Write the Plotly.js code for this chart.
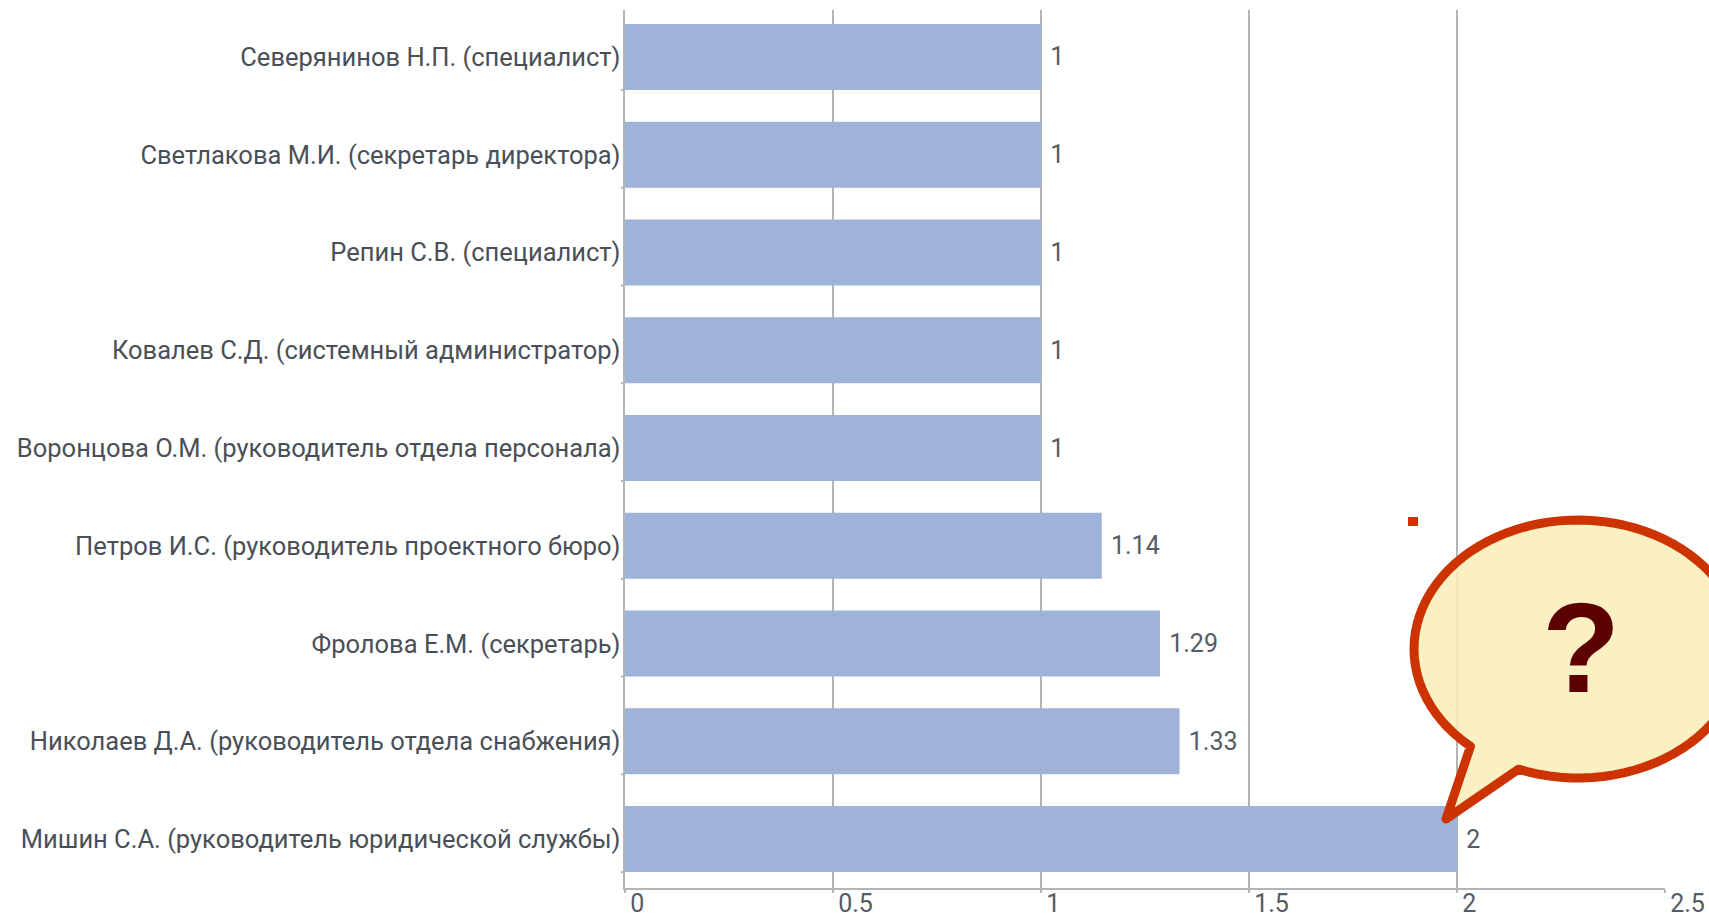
<!DOCTYPE html>
<html>
<head>
<meta charset="utf-8">
<script src="https://cdn.plot.ly/plotly-3.0.1.min.js"></script>
<style>
html,body{margin:0;padding:0;background:#fff;overflow:hidden}
#chart{width:1709px;height:919px}
.shapelayer path{stroke-linejoin:round}
</style>
</head>
<body>
<div id="chart"></div>
<script>
const categories = [
  "Северянинов Н.П. (специалист)",
  "Светлакова М.И. (секретарь директора)",
  "Репин С.В. (специалист)",
  "Ковалев С.Д. (системный администратор)",
  "Воронцова О.М. (руководитель отдела персонала)",
  "Петров И.С. (руководитель проектного бюро)",
  "Фролова Е.М. (секретарь)",
  "Николаев Д.А. (руководитель отдела снабжения)",
  "Мишин С.А. (руководитель юридической службы)"
];
const values = [1, 1, 1, 1, 1, 1.146, 1.286, 1.333, 2];
const valueLabels = ["1", "1", "1", "1", "1", "1.14", "1.29", "1.33", "2"];
const tickValues = [0, 0.5, 1, 1.5, 2, 2.5];
const tickLabels = ["0", "0.5", "1", "1.5", "2", "2.5"];

const W = 1709, H = 919;
const M = {l: 625, r: 44, t: 10, b: 31};
const BAR = 0.675;
const GREY = "#b4b4b4";
const px = x => (x - M.l) / (W - M.l - M.r);
const py = y => (H - M.b - y) / (H - M.t - M.b);

const cx = 1578, cy = 649, rx = 164, ry = 129;
function callout() {
  const a0 = Math.atan2((745 - cy) / ry, (1472 - cx) / rx);
  let a1 = Math.atan2((768 - cy) / ry, (1519 - cx) / rx);
  if (a1 < a0) a1 += 2 * Math.PI;
  const pts = [];
  const n = 90;
  for (let i = 0; i <= n; i++) {
    const a = a0 + (a1 - a0) * i / n;
    pts.push([cx + rx * Math.cos(a), cy + ry * Math.sin(a)]);
  }
  pts.push([1446, 819]);
  return pts.map((p, i) => (i ? "L" : "M") + px(p[0]).toFixed(5) + "," + py(p[1]).toFixed(5)).join(" ") + " Z";
}

const trace = {
  type: "bar",
  orientation: "h",
  y: categories,
  x: values,
  width: BAR,
  marker: {color: "#9fb2da", line: {width: 0}},
  text: valueLabels.map(s => "\u00a0" + s),
  textposition: "outside",
  cliponaxis: false,
  textfont: {family: "Roboto, sans-serif", size: 25, color: "#555c66"},
  hoverinfo: "x+y"
};

const barTicks = categories.map((c, i) => ({
  type: "line", xref: "paper", yref: "y", layer: "below",
  x0: px(621), x1: px(625), y0: i + BAR / 2, y1: i + BAR / 2,
  line: {color: GREY, width: 2}
}));

const layout = {
  width: W, height: H,
  margin: M,
  paper_bgcolor: "#fff",
  plot_bgcolor: "#fff",
  showlegend: false,
  font: {family: "Roboto, sans-serif", color: "#4a4f57"},
  xaxis: {
    range: [0, 2.5],
    tickmode: "array",
    tickvals: tickValues,
    ticktext: tickLabels,
    ticks: "outside", ticklen: 3, tickwidth: 2, tickcolor: GREY,
    showgrid: true, gridcolor: GREY, gridwidth: 2.4,
    showline: true, linecolor: GREY, linewidth: 2.4,
    zeroline: false,
    ticklabelposition: "outside right",
    ticklabelshift: 3,
    ticklabelstandoff: -8,
    tickfont: {family: "Roboto, sans-serif", size: 25, color: "#555c66"}
  },
  yaxis: {
    type: "category",
    range: [8.5, -0.48],
    ticks: "",
    ticklabelstandoff: -3,
    showgrid: false,
    showline: true, linecolor: GREY, linewidth: 2.4,
    zeroline: false,
    tickfont: {family: "Roboto, sans-serif", size: 25.5, color: "#4a4f57"}
  },
  shapes: barTicks.concat([
    {type: "path", xref: "paper", yref: "paper", path: callout(), layer: "above",
     fillcolor: "rgba(251,238,185,0.88)", line: {color: "#cc3300", width: 9}},
    {type: "rect", xref: "paper", yref: "paper", layer: "above",
     x0: px(1408), x1: px(1418), y0: py(526), y1: py(517),
     fillcolor: "#cc3300", line: {width: 0}}
  ]),
  annotations: [
    {xref: "paper", yref: "paper", x: px(1581), y: py(647), text: "<b>?</b>", showarrow: false,
     xanchor: "center", yanchor: "middle",
     font: {family: "Liberation Sans, Arial, sans-serif", size: 128, color: "#5c0000"}}
  ]
};

Plotly.newPlot("chart", [trace], layout, {displayModeBar: false, staticPlot: true});
</script>
</body>
</html>
